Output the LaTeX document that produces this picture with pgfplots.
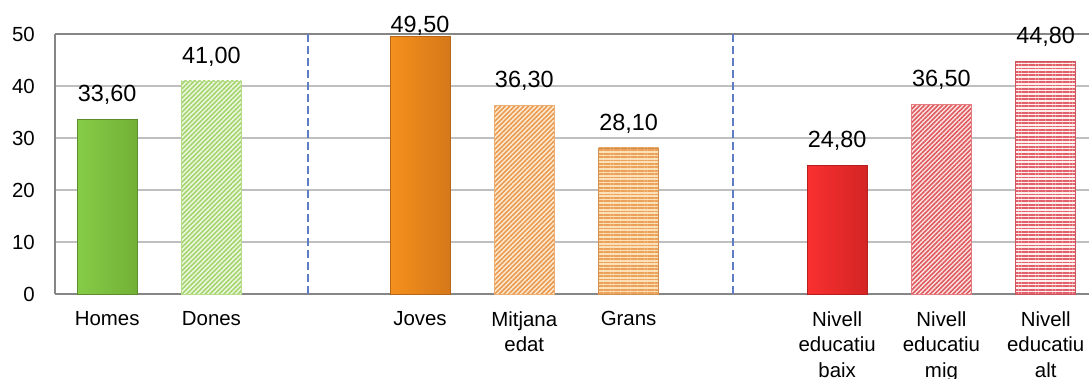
\documentclass[border=0pt]{standalone}
\usepackage{fontspec}
\setmainfont{Liberation Sans}
\usepackage{pgfplots}
\pgfplotsset{compat=1.18}
\usetikzlibrary{patterns.meta}
\definecolor{axisgray}{HTML}{868686}
\definecolor{gridgray}{HTML}{BFBFBF}
\definecolor{sepblue}{HTML}{5F7DC2}
\definecolor{gL}{HTML}{86CC48}
\definecolor{gM}{HTML}{A6DE66}
\definecolor{gR}{HTML}{72B035}
\definecolor{gStripe}{HTML}{A4D46C}
\definecolor{gBack}{HTML}{EEF8E2}
\definecolor{oL}{HTML}{F4901C}
\definecolor{oM}{HTML}{F9A33C}
\definecolor{oR}{HTML}{D6781A}
\definecolor{oStripe}{HTML}{E99A50}
\definecolor{oBack}{HTML}{FDEBD3}
\definecolor{oHStripe}{HTML}{EBA15A}
\definecolor{oHBack}{HTML}{FCE0B8}
\definecolor{rL}{HTML}{F93030}
\definecolor{rM}{HTML}{FF4040}
\definecolor{rR}{HTML}{D42424}
\definecolor{rStripe}{HTML}{DE5A5E}
\definecolor{rBack}{HTML}{FCE6E6}
\definecolor{rHStripe}{HTML}{E2606A}
\definecolor{rHBack}{HTML}{FFF0F0}
\begin{document}
\begin{tikzpicture}
\begin{axis}[name=a, scale only axis, width=1034bp, height=260bp,
  xmin=-0.5, xmax=9.415, ymin=0, ymax=50, ytick={0,10,...,50},
  xtick={0,1,3,4,5,7,8,9},
  xticklabels={Homes,Dones,Joves,{Mitjana\\edat},Grans,{Nivell\\educatiu\\baix},{Nivell\\educatiu\\mig},{Nivell\\educatiu\\alt}},
  axis x line*=bottom, axis y line*=left,
  axis line style={color=axisgray, line width=1.5bp},
  ymajorgrids, grid style={color=gridgray, line width=1.3bp},
  major tick length=0pt,
  tick label style={font=\fontsize{20.5}{25.5}\selectfont, inner sep=0pt},
  xticklabel style={align=center, yshift=-17.5bp, anchor=north},
  yticklabel style={xshift=-20bp, anchor=east},
  ybar, bar shift=0pt, bar width=0.575,
  clip=false,
  /pgf/number format/assume math mode=true,
  nodes near coords={\pgfmathprintnumber[fixed,fixed zerofill,precision=2,use comma]{\pgfplotspointmeta}},
  every node near coord/.append style={font=\fontsize{23.5}{28}\selectfont, anchor=south, text depth=0pt, yshift=17bp, inner sep=0pt, text=black},
]
\addplot[draw=gR!80!black, line width=0.6bp, left color=gL, middle color=gM, right color=gR] coordinates {(0,33.6)};
\addplot[draw=gStripe!80, line width=0.6bp, preaction={fill=gBack}, pattern={Lines[angle=45,distance=3.3bp,line width=1.6bp]}, pattern color=gStripe] coordinates {(1,41.0)};
\addplot[draw=oR!85!black, line width=0.6bp, left color=oL, middle color=oM, right color=oR, nodes near coords style={yshift=-13bp}] coordinates {(3,49.5)};
\addplot[draw=oStripe!80, line width=0.6bp, preaction={fill=oBack}, pattern={Lines[angle=45,distance=3.3bp,line width=1.6bp]}, pattern color=oStripe] coordinates {(4,36.3)};
\addplot[draw=oHStripe!90!black, line width=0.6bp, preaction={fill=oHBack}, pattern={Lines[angle=0,distance=3.4bp,line width=1.8bp]}, pattern color=oHStripe] coordinates {(5,28.1)};
\addplot[draw=rR!85!black, line width=0.6bp, left color=rL, middle color=rM, right color=rR] coordinates {(7,24.8)};
\addplot[draw=rStripe!80, line width=0.6bp, preaction={fill=rBack}, pattern={Lines[angle=45,distance=3.2bp,line width=1.6bp]}, pattern color=rStripe] coordinates {(8,36.5)};
\addplot[draw=rHStripe!90!black, line width=0.6bp, preaction={fill=rHBack}, pattern={Lines[angle=0,distance=3.4bp,line width=1.8bp]}, pattern color=rHStripe] coordinates {(9,44.8)};
\draw[axisgray, line width=1.5bp] (rel axis cs:0,1) -- (rel axis cs:1,1);
\draw[sepblue, line width=2bp, dash pattern=on 8bp off 4bp] (axis cs:1.925,0) -- (axis cs:1.925,50);
\draw[sepblue, line width=2bp, dash pattern=on 8bp off 4bp] (axis cs:6,0) -- (axis cs:6,50);
\end{axis}
\pgfresetboundingbox
\path[use as bounding box] ([shift={(-55bp,-84bp)}]a.south west) rectangle ([shift={(0bp,34bp)}]a.north east);
\end{tikzpicture}
\end{document}
